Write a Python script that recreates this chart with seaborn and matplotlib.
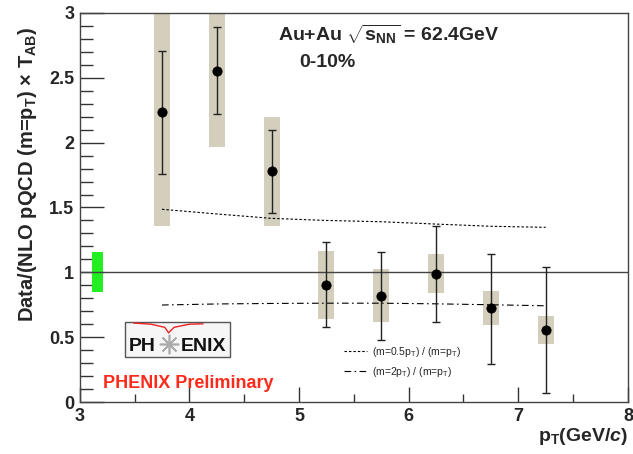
import numpy as np
import pandas as pd
import matplotlib
matplotlib.use("Agg")
import matplotlib.pyplot as plt
import seaborn as sns
from matplotlib.patches import Rectangle

# ---------------- data ----------------
pt = [3.75, 4.25, 4.75, 5.25, 5.75, 6.25, 6.75, 7.25]
ratio = [2.24, 2.55, 1.78, 0.905, 0.82, 0.987, 0.722, 0.555]
stat_lo = [1.76, 2.22, 1.455, 0.578, 0.478, 0.62, 0.293, 0.069]
stat_hi = [2.71, 2.89, 2.10, 1.23, 1.16, 1.36, 1.143, 1.043]
sys_lo = [1.36, 1.97, 1.36, 0.64, 0.617, 0.843, 0.591, 0.45]
sys_hi = [3.00, 3.00, 2.20, 1.164, 1.023, 1.141, 0.856, 0.663]
theory_half = [1.486, 1.45, 1.416, 1.40, 1.39, 1.372, 1.355, 1.347]
theory_two = [0.748, 0.756, 0.76, 0.762, 0.762, 0.757, 0.75, 0.742]
norm_x = [3.16]
norm_lo = [0.85]
norm_hi = [1.155]
xticks = [3, 4, 5, 6, 7, 8]
yticks = [0, 0.5, 1, 1.5, 2, 2.5, 3]
ytick_labels = ["0", "0.5", "1", "1.5", "2", "2.5", "3"]

df = pd.DataFrame({"pt": pt, "ratio": ratio})
th = pd.DataFrame({"pt": pt, "half": theory_half, "two": theory_two})

# ---------------- style ----------------
sns.set_theme(style="white")
plt.rcParams["font.family"] = ["Liberation Sans", "DejaVu Sans"]
plt.rcParams["mathtext.fontset"] = "custom"
plt.rcParams["mathtext.rm"] = "Liberation Sans:bold"
plt.rcParams["mathtext.bf"] = "Liberation Sans:bold"
plt.rcParams["mathtext.it"] = "Liberation Sans:italic:bold"
plt.rcParams["mathtext.sf"] = "Liberation Sans"
plt.rcParams["mathtext.default"] = "rm"

fig = plt.figure(figsize=(6.33, 4.54), dpi=100)
ax = fig.add_axes([0.126, 0.1145, 0.866, 0.857])

box_col = "#d3cfbc"
# systematic boxes
ax.bar(pt, np.array(sys_hi) - np.array(sys_lo), bottom=sys_lo, width=0.146,
       color=box_col, edgecolor="none", zorder=1)
# normalization box
ax.bar(norm_x, np.array(norm_hi) - np.array(norm_lo), bottom=norm_lo, width=0.1,
       color="#22ee22", edgecolor="none", zorder=1)
# unity line
ax.axhline(1.0, color="#444444", lw=1.0, zorder=2)

# theory ratio curves
sns.lineplot(data=th, x="pt", y="half", ax=ax, color="black", lw=0.8,
             linestyle=(0, (2.2, 1.8)),
             label=r"(m=0.5$\mathsf{p_T}$) / (m=$\mathsf{p_T}$)", zorder=3)
sns.lineplot(data=th, x="pt", y="two", ax=ax, color="black", lw=0.8,
             linestyle=(0, (6, 3, 1.5, 3)),
             label=r"(m=2$\mathsf{p_T}$) / (m=$\mathsf{p_T}$)", zorder=3)

# stat error bars
ax.errorbar(pt, ratio,
            yerr=[np.array(ratio) - np.array(stat_lo), np.array(stat_hi) - np.array(ratio)],
            fmt="none", ecolor="#222222", elinewidth=1.0, capsize=3, capthick=1.0, zorder=4)
sns.scatterplot(data=df, x="pt", y="ratio", ax=ax, color="black", s=45,
                edgecolor="black", zorder=5, legend=False)

# ---------------- axes ----------------
ax.set_xlim(3, 8)
ax.set_ylim(0, 3)
ax.set_xticks(xticks)
ax.set_yticks(yticks)
ax.set_xticklabels([str(v) for v in xticks])
ax.set_yticklabels(ytick_labels)
ax.set_xticks(np.arange(3, 8.01, 0.5), minor=True)
ax.set_yticks(np.arange(0, 3.01, 0.1), minor=True)
ax.tick_params(axis="both", which="both", direction="in", top=False, right=False,
               bottom=True, left=True, color="#333333", width=1.0)
ax.tick_params(axis="y", which="major", length=17, pad=4, labelsize=13)
ax.tick_params(axis="y", which="minor", length=9)
ax.tick_params(axis="x", which="major", length=11, pad=4, labelsize=13)
ax.tick_params(axis="x", which="minor", length=6)
for lab in ax.get_xticklabels() + ax.get_yticklabels():
    lab.set_fontweight("bold")
for sp in ax.spines.values():
    sp.set_color("#444444")
    sp.set_linewidth(1.0)
ax.set_xlabel("")
ax.set_ylabel("")

fig.text(0.043, 0.615, r"Data/(NLO pQCD (m=p$_T$) $\times$ T$_{AB}$)", rotation=90,
         ha="center", va="center", fontsize=14.5, fontweight="bold")
fig.text(0.992, 0.015, r"p$_T$(GeV/$\mathit{c}$)", ha="right", va="bottom",
         fontsize=14, fontweight="bold")

ax.text(0.361, 0.975, r"Au+Au $\sqrt{s_{NN}}$ = 62.4GeV", transform=ax.transAxes,
        ha="left", va="top", fontsize=14, fontweight="bold")
ax.text(0.401, 0.895, "0-10%", transform=ax.transAxes, ha="left", va="top",
        fontsize=14, fontweight="bold")

ax.text(0.042, 0.036, "PHENIX Preliminary", transform=ax.transAxes, ha="left",
        va="baseline", fontsize=13, fontweight="bold", color="#ff2a1a")

# PHENIX logo
ax.add_patch(Rectangle((0.082, 0.116), 0.192, 0.090, transform=ax.transAxes,
                       facecolor="#f6f6f6", edgecolor="#555555", lw=1.0, zorder=6))
ax.text(0.089, 0.122, "PH", transform=ax.transAxes, ha="left", va="bottom",
        fontsize=14, fontweight="bold", color="#111111", zorder=7)
ax.text(0.268, 0.122, "ENIX", transform=ax.transAxes, ha="right", va="bottom",
        fontsize=14, fontweight="bold", color="#111111", zorder=7)
ax.plot([0.162], [0.150], marker=(8, 2, 0), ms=14, color="#aaaaaa", mew=1.2,
        transform=ax.transAxes, zorder=7)
ax.plot([0.098, 0.13, 0.155, 0.162], [0.203, 0.200, 0.192, 0.178], color="#ee2222",
        lw=1.0, transform=ax.transAxes, zorder=7)
ax.plot([0.162, 0.172, 0.20, 0.225], [0.178, 0.192, 0.200, 0.201], color="#ee2222",
        lw=1.0, transform=ax.transAxes, zorder=7)

leg = ax.legend(loc="lower left", bbox_to_anchor=(0.465, 0.035), frameon=False,
                fontsize=7.5, handlelength=2.2, handletextpad=0.5, labelspacing=0.6)

fig.savefig("out.png", dpi=100)
